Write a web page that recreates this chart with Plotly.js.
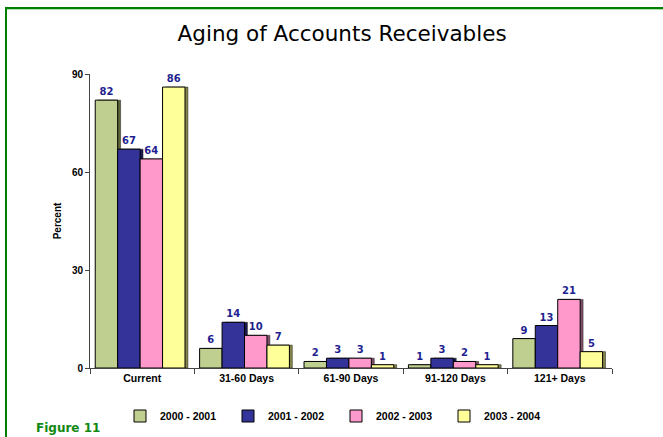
<!DOCTYPE html>
<html>
<head>
<meta charset="utf-8">
<script src="https://cdn.plot.ly/plotly-3.0.1.min.js"></script>
<style>html,body{margin:0;padding:0;background:#fff;}#chart{width:663px;height:437px;}</style>
</head>
<body>
<div id="chart"></div>
<script>
var categories = ["Current", "31-60 Days", "61-90 Days", "91-120 Days", "121+ Days"];
var seriesNames = ["2000 - 2001", "2001 - 2002", "2002 - 2003", "2003 - 2004"];
var s2000 = [82, 6, 2, 1, 9];
var s2001 = [67, 14, 3, 3, 13];
var s2002 = [64, 10, 3, 2, 21];
var s2003 = [86, 7, 1, 1, 5];
var yTicks = [0, 30, 60, 90];

var seriesValues = [s2000, s2001, s2002, s2003];
var colors = ["#BFCF8F", "#333399", "#FF99CC", "#FFFF99"];
var shadowColors = ["#5E6638", "#1A1A50", "#80506A", "#86864A"];
var offsets = [-0.45, -0.235, -0.02, 0.195];
var barW = 0.215;
var depth = 0.028;

var traces = [];
seriesValues.forEach(function (vals, i) {
  traces.push({
    type: "bar", x: categories, y: vals,
    offset: offsets[i] + depth, width: barW,
    marker: {color: shadowColors[i], line: {color: "#222", width: 0.5}},
    showlegend: false, hoverinfo: "skip"
  });
});
seriesValues.forEach(function (vals, i) {
  traces.push({
    type: "bar", name: seriesNames[i], x: categories, y: vals,
    offset: offsets[i], width: barW,
    marker: {color: colors[i], line: {color: "#000", width: 1}},
    text: vals.map(String), textposition: "outside",
    textfont: {family: "DejaVu Sans, Verdana", size: 10, color: "#1F1F8F", weight: "bold"},
    cliponaxis: false
  });
});

var layout = {
  width: 663, height: 437,
  paper_bgcolor: "#fff", plot_bgcolor: "#fff",
  margin: {l: 90, r: 51, t: 74, b: 69},
  barmode: "overlay",
  title: {text: "Aging of Accounts Receivables", xref: "container", x: 0.516, xanchor: "center",
          yref: "container", y: 1 - 33 / 437, yanchor: "middle",
          font: {family: "DejaVu Sans, Verdana", size: 21.5, color: "#000"}},
  xaxis: {range: [-0.5, 4.5], showline: true, linecolor: "#444", linewidth: 1,
          ticks: "outside", ticklen: 5, tickcolor: "#444", tickson: "boundaries",
          showgrid: false, zeroline: false, fixedrange: true,
          tickfont: {family: "Liberation Sans, Arial", size: 10.5, color: "#000", weight: "bold"}},
  yaxis: {range: [0, 90], tickvals: yTicks, showline: true, linecolor: "#444", linewidth: 1,
          ticks: "outside", ticklen: 4, tickcolor: "#444",
          showgrid: false, zeroline: false, fixedrange: true,
          tickfont: {family: "Liberation Sans, Arial", size: 10, color: "#000", weight: "bold"},
          title: {text: "Percent", standoff: 8,
                  font: {family: "Liberation Sans, Arial", size: 10, color: "#000", weight: "bold"}}},
  legend: {orientation: "h", xref: "container", x: 120 / 663, xanchor: "left",
           yref: "container", y: 1 - 416 / 437, yanchor: "middle",
           entrywidth: 63, entrywidthmode: "pixels", traceorder: "normal",
           font: {family: "Liberation Sans, Arial", size: 10.5, color: "#000", weight: "bold"}},
  annotations: [{text: "Figure 11", xref: "paper", yref: "paper",
                 x: (34 - 90) / 522, y: (368 - 428) / 294, xanchor: "left", yanchor: "middle",
                 showarrow: false,
                 font: {family: "DejaVu Sans, Verdana", size: 12, color: "#118811", weight: "bold"}}],
  shapes: [
    {type: "line", xref: "paper", yref: "paper", x0: (6 - 90) / 522, x1: (6 - 90) / 522,
     y0: (368 - 8) / 294, y1: -0.3, line: {color: "#008000", width: 2}},
    {type: "line", xref: "paper", yref: "paper", x0: (5 - 90) / 522, x1: 1.2,
     y0: (368 - 8) / 294, y1: (368 - 8) / 294, line: {color: "#008000", width: 2}},
    {type: "line", xref: "paper", yref: "paper", x0: (7 - 90) / 522, x1: 1.2,
     y0: (368 - 9.6) / 294, y1: (368 - 9.6) / 294, line: {color: "#A8DCA8", width: 1}}
  ],
  bargap: 0
};

Plotly.newPlot("chart", traces, layout, {displayModeBar: false, staticPlot: true});
</script>
</body>
</html>
